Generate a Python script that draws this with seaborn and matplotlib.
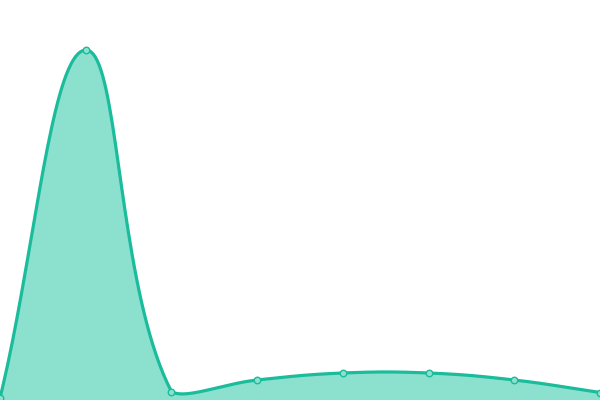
import numpy as np
import pandas as pd
import seaborn as sns
import matplotlib.pyplot as plt

# values (axis runs 0..400)
labels = ["p1", "p2", "p3", "p4", "p5", "p6", "p7", "p8"]
values = [2, 350, 8.5, 20, 27, 27, 20, 7.5]

line_color = "#1abc9c"
fill_color = "#8ce0ce"
W, H = 600, 400
y_max = 400


def spline_curve(px, py, tension=0.4, steps=40):
    # chart.js style bezier through the points, done in pixel space
    n = len(px)
    cps = []
    for i in range(n):
        prev_i = max(i - 1, 0)
        next_i = min(i + 1, n - 1)
        d01 = np.hypot(px[i] - px[prev_i], py[i] - py[prev_i])
        d12 = np.hypot(px[next_i] - px[i], py[next_i] - py[i])
        tot = d01 + d12
        s01 = d01 / tot if tot else 0
        s12 = d12 / tot if tot else 0
        fa = tension * s01
        fb = tension * s12
        dx = px[next_i] - px[prev_i]
        dy = py[next_i] - py[prev_i]
        cp_prev = (px[i] - fa * dx, py[i] - fa * dy)
        cp_next = (px[i] + fb * dx, py[i] + fb * dy)
        # cap inside chart area
        cp_prev = (min(max(cp_prev[0], 0), W), min(max(cp_prev[1], 0), H))
        cp_next = (min(max(cp_next[0], 0), W), min(max(cp_next[1], 0), H))
        cps.append((cp_prev, cp_next))
    xs, ys = [], []
    t = np.linspace(0, 1, steps)
    for i in range(n - 1):
        p0 = np.array([px[i], py[i]])
        p1 = np.array(cps[i][1])
        p2 = np.array(cps[i + 1][0])
        p3 = np.array([px[i + 1], py[i + 1]])
        seg = ((1 - t) ** 3)[:, None] * p0 + (3 * (1 - t) ** 2 * t)[:, None] * p1 \
            + (3 * (1 - t) * t ** 2)[:, None] * p2 + (t ** 3)[:, None] * p3
        xs.extend(seg[:, 0])
        ys.extend(seg[:, 1])
    return np.array(xs), np.array(ys)


idx = np.arange(len(values))
px = idx * W / (len(values) - 1)
py = np.array(values) * H / y_max
cx, cy = spline_curve(px, py)
curve = pd.DataFrame({"x": cx * (len(values) - 1) / W, "y": cy * y_max / H})
points = pd.DataFrame({"x": idx, "y": values, "label": labels})

sns.set_style("white")
fig = plt.figure(figsize=(6, 4), dpi=100)
ax = fig.add_axes([0, 0, 1, 1])

ax.fill_between(curve["x"], curve["y"], 0, color=fill_color, linewidth=0)
sns.lineplot(data=curve, x="x", y="y", ax=ax, color=line_color, linewidth=2.3,
             sort=False, estimator=None)
sns.scatterplot(data=points, x="x", y="y", ax=ax, color=fill_color, edgecolor=line_color,
                s=22, linewidth=1.0, zorder=5, clip_on=True)

ax.set_xlim(0, len(values) - 1)
ax.set_ylim(0, y_max)
ax.axis("off")

fig.savefig("out.png", dpi=100)
